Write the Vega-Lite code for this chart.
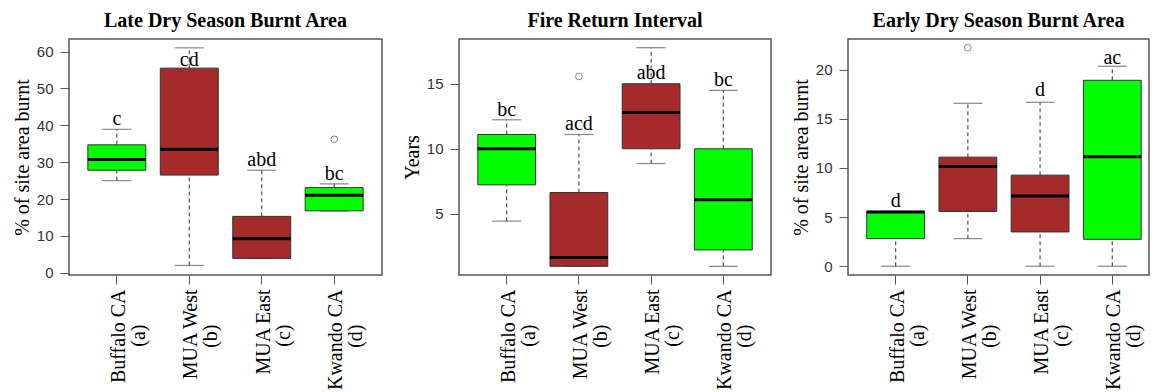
{
  "$schema": "https://vega.github.io/schema/vega-lite/v6.json",
  "padding": {"left": 11, "top": 10, "right": 0, "bottom": 0},
  "datasets": {
    "late": [
      {"site": "Buffalo CA", "grp": "CA", "lower": 25.0, "q1": 27.8, "median": 30.7, "q3": 34.7, "upper": 38.9, "outlier": null, "letter": "c", "ly": 41.7},
      {"site": "MUA West", "grp": "MUA", "lower": 2.0, "q1": 26.5, "median": 33.5, "q3": 55.5, "upper": 61.0, "outlier": null, "letter": "cd", "ly": 57.8},
      {"site": "MUA East", "grp": "MUA", "lower": 3.9, "q1": 3.9, "median": 9.2, "q3": 15.3, "upper": 27.8, "outlier": null, "letter": "abd", "ly": 30.7},
      {"site": "Kwando CA", "grp": "CA", "lower": 16.8, "q1": 16.8, "median": 21.0, "q3": 23.1, "upper": 24.1, "outlier": 36.2, "letter": "bc", "ly": 26.9}
    ],
    "fire": [
      {"site": "Buffalo CA", "grp": "CA", "lower": 4.44, "q1": 7.23, "median": 10.0, "q3": 11.1, "upper": 12.23, "outlier": null, "letter": "bc", "ly": 12.95},
      {"site": "MUA West", "grp": "MUA", "lower": 0.97, "q1": 0.97, "median": 1.64, "q3": 6.64, "upper": 11.1, "outlier": 15.56, "letter": "acd", "ly": 11.9},
      {"site": "MUA East", "grp": "MUA", "lower": 8.87, "q1": 10.0, "median": 12.8, "q3": 15.0, "upper": 17.77, "outlier": null, "letter": "abd", "ly": 15.8},
      {"site": "Kwando CA", "grp": "CA", "lower": 0.97, "q1": 2.23, "median": 6.08, "q3": 10.0, "upper": 14.49, "outlier": null, "letter": "bc", "ly": 15.3}
    ],
    "early": [
      {"site": "Buffalo CA", "grp": "CA", "lower": 0, "q1": 2.81, "median": 5.52, "q3": 5.58, "upper": 5.58, "outlier": null, "letter": "d", "ly": 6.67},
      {"site": "MUA West", "grp": "MUA", "lower": 2.81, "q1": 5.58, "median": 10.15, "q3": 11.1, "upper": 16.58, "outlier": 22.23, "letter": "", "ly": null},
      {"site": "MUA East", "grp": "MUA", "lower": 0, "q1": 3.49, "median": 7.14, "q3": 9.27, "upper": 16.68, "outlier": null, "letter": "d", "ly": 17.9},
      {"site": "Kwando CA", "grp": "CA", "lower": 0, "q1": 2.74, "median": 11.13, "q3": 18.92, "upper": 20.34, "outlier": null, "letter": "ac", "ly": 21.2}
    ]
  },
  "config": {
    "view": {"stroke": "#555", "strokeWidth": 1.5},
    "axis": {"grid": false, "domain": false, "tickColor": "#555", "tickSize": 9, "tickWidth": 1},
    "axisY": {"labelFont": "Liberation Sans", "labelFontSize": 15, "labelColor": "#333", "labelPadding": 7, "labelOverlap": false, "titleFont": "Liberation Serif", "titleFontSize": 20, "titleFontWeight": "normal", "titleColor": "#000", "titlePadding": 4},
    "axisX": {"labelFont": "Liberation Serif", "labelFontSize": 20, "labelColor": "#000", "labelAngle": 270, "labelAlign": "right", "labelBaseline": "middle", "labelPadding": 5, "labelOffset": 2, "labelLineHeight": 20, "labelOverlap": false, "title": null},
    "title": {"font": "Liberation Serif", "fontSize": 20, "fontWeight": "bold", "color": "#000", "anchor": "middle", "frame": "group", "baseline": "alphabetic", "offset": 8},
    "concat": {"spacing": 18}
  },
  "hconcat": [
    {
      "title": "Late Dry Season Burnt Area",
      "width": 313, "height": 236,
      "data": {"name": "late"},
      "encoding": {
        "x": {"field": "site", "type": "nominal", "sort": ["Buffalo CA", "MUA West", "MUA East", "Kwando CA"],
              "scale": {"type": "band", "paddingInner": 0.2, "paddingOuter": 0.26},
              "axis": {"labelExpr": "[datum.label, '(' + ['a','b','c','d'][indexof(['Buffalo CA','MUA West','MUA East','Kwando CA'], datum.label)] + ')' + '\u00a0\u00a0\u00a0\u00a0\u00a0\u00a0\u00a0\u200b']"}}
      },
      "layer": [
        {"mark": {"type": "rule", "color": "#555", "strokeDash": [4, 3], "strokeWidth": 1.2},
         "encoding": {"y": {"field": "lower", "type": "quantitative", "scale": {"domain": [-0.6, 63.4], "nice": false, "zero": false}, "axis": {"values": [0, 10, 20, 30, 40, 50, 60], "title": "% of site area burnt"}}, "y2": {"field": "q1"}}},
        {"mark": {"type": "rule", "color": "#555", "strokeDash": [4, 3], "strokeWidth": 1.2},
         "encoding": {"y": {"field": "q3", "type": "quantitative", "axis": {"values": [0, 10, 20, 30, 40, 50, 60], "title": "% of site area burnt"}}, "y2": {"field": "upper"}}},
        {"mark": {"type": "tick", "color": "#555", "size": 29, "thickness": 1.2},
         "encoding": {"y": {"field": "lower", "type": "quantitative", "axis": {"values": [0, 10, 20, 30, 40, 50, 60], "title": "% of site area burnt"}}}},
        {"mark": {"type": "tick", "color": "#555", "size": 29, "thickness": 1.2},
         "encoding": {"y": {"field": "upper", "type": "quantitative", "axis": {"values": [0, 10, 20, 30, 40, 50, 60], "title": "% of site area burnt"}}}},
        {"mark": {"type": "bar", "stroke": "#333", "strokeWidth": 1},
         "encoding": {"y": {"field": "q1", "type": "quantitative", "axis": {"values": [0, 10, 20, 30, 40, 50, 60], "title": "% of site area burnt"}}, "y2": {"field": "q3"},
                      "color": {"field": "grp", "type": "nominal", "scale": {"domain": ["CA", "MUA"], "range": ["#00FF00", "#A52A2A"]}, "legend": null}}},
        {"mark": {"type": "tick", "color": "#000", "size": 58, "thickness": 3, "opacity": 1},
         "encoding": {"y": {"field": "median", "type": "quantitative", "axis": {"values": [0, 10, 20, 30, 40, 50, 60], "title": "% of site area burnt"}}}},
        {"transform": [{"filter": "datum.outlier != null"}],
         "mark": {"type": "point", "shape": "circle", "filled": false, "color": "#555", "size": 45, "strokeWidth": 1},
         "encoding": {"y": {"field": "outlier", "type": "quantitative", "axis": {"values": [0, 10, 20, 30, 40, 50, 60], "title": "% of site area burnt"}}}},
        {"transform": [{"filter": "datum.ly != null"}],
         "mark": {"type": "text", "font": "Liberation Serif", "fontSize": 20, "color": "#000", "baseline": "middle"},
         "encoding": {"y": {"field": "ly", "type": "quantitative", "axis": {"values": [0, 10, 20, 30, 40, 50, 60], "title": "% of site area burnt"}}, "text": {"field": "letter"}}}
      ]
    },
    {
      "title": "Fire Return Interval",
      "width": 312, "height": 236,
      "data": {"name": "fire"},
      "encoding": {
        "x": {"field": "site", "type": "nominal", "sort": ["Buffalo CA", "MUA West", "MUA East", "Kwando CA"],
              "scale": {"type": "band", "paddingInner": 0.2, "paddingOuter": 0.26},
              "axis": {"labelExpr": "[datum.label, '(' + ['a','b','c','d'][indexof(['Buffalo CA','MUA West','MUA East','Kwando CA'], datum.label)] + ')' + '\u00a0\u00a0\u00a0\u00a0\u00a0\u00a0\u00a0\u200b']"}}
      },
      "layer": [
        {"mark": {"type": "rule", "color": "#555", "strokeDash": [4, 3], "strokeWidth": 1.2},
         "encoding": {"y": {"field": "lower", "type": "quantitative", "scale": {"domain": [0.3, 18.44], "nice": false, "zero": false}, "axis": {"values": [5, 10, 15], "title": "Years"}}, "y2": {"field": "q1"}}},
        {"mark": {"type": "rule", "color": "#555", "strokeDash": [4, 3], "strokeWidth": 1.2},
         "encoding": {"y": {"field": "q3", "type": "quantitative", "axis": {"values": [5, 10, 15], "title": "Years"}}, "y2": {"field": "upper"}}},
        {"mark": {"type": "tick", "color": "#555", "size": 29, "thickness": 1.2},
         "encoding": {"y": {"field": "lower", "type": "quantitative", "axis": {"values": [5, 10, 15], "title": "Years"}}}},
        {"mark": {"type": "tick", "color": "#555", "size": 29, "thickness": 1.2},
         "encoding": {"y": {"field": "upper", "type": "quantitative", "axis": {"values": [5, 10, 15], "title": "Years"}}}},
        {"mark": {"type": "bar", "stroke": "#333", "strokeWidth": 1},
         "encoding": {"y": {"field": "q1", "type": "quantitative", "axis": {"values": [5, 10, 15], "title": "Years"}}, "y2": {"field": "q3"},
                      "color": {"field": "grp", "type": "nominal", "scale": {"domain": ["CA", "MUA"], "range": ["#00FF00", "#A52A2A"]}, "legend": null}}},
        {"mark": {"type": "tick", "color": "#000", "size": 58, "thickness": 3, "opacity": 1},
         "encoding": {"y": {"field": "median", "type": "quantitative", "axis": {"values": [5, 10, 15], "title": "Years"}}}},
        {"transform": [{"filter": "datum.outlier != null"}],
         "mark": {"type": "point", "shape": "circle", "filled": false, "color": "#555", "size": 45, "strokeWidth": 1},
         "encoding": {"y": {"field": "outlier", "type": "quantitative", "axis": {"values": [5, 10, 15], "title": "Years"}}}},
        {"transform": [{"filter": "datum.ly != null"}],
         "mark": {"type": "text", "font": "Liberation Serif", "fontSize": 20, "color": "#000", "baseline": "middle"},
         "encoding": {"y": {"field": "ly", "type": "quantitative", "axis": {"values": [5, 10, 15], "title": "Years"}}, "text": {"field": "letter"}}}
      ]
    },
    {
      "title": "Early Dry Season Burnt Area",
      "width": 301, "height": 236,
      "data": {"name": "early"},
      "encoding": {
        "x": {"field": "site", "type": "nominal", "sort": ["Buffalo CA", "MUA West", "MUA East", "Kwando CA"],
              "scale": {"type": "band", "paddingInner": 0.2, "paddingOuter": 0.184, "align": 0.706},
              "axis": {"labelExpr": "[datum.label, '(' + ['a','b','c','d'][indexof(['Buffalo CA','MUA West','MUA East','Kwando CA'], datum.label)] + ')' + '\u00a0\u00a0\u00a0\u00a0\u00a0\u00a0\u00a0\u200b']"}}
      },
      "layer": [
        {"mark": {"type": "rule", "color": "#555", "strokeDash": [4, 3], "strokeWidth": 1.2},
         "encoding": {"y": {"field": "lower", "type": "quantitative", "scale": {"domain": [-0.89, 23.12], "nice": false, "zero": false}, "axis": {"values": [0, 5, 10, 15, 20], "title": "% of site area burnt"}}, "y2": {"field": "q1"}}},
        {"mark": {"type": "rule", "color": "#555", "strokeDash": [4, 3], "strokeWidth": 1.2},
         "encoding": {"y": {"field": "q3", "type": "quantitative", "axis": {"values": [0, 5, 10, 15, 20], "title": "% of site area burnt"}}, "y2": {"field": "upper"}}},
        {"mark": {"type": "tick", "color": "#555", "size": 29, "thickness": 1.2},
         "encoding": {"y": {"field": "lower", "type": "quantitative", "axis": {"values": [0, 5, 10, 15, 20], "title": "% of site area burnt"}}}},
        {"mark": {"type": "tick", "color": "#555", "size": 29, "thickness": 1.2},
         "encoding": {"y": {"field": "upper", "type": "quantitative", "axis": {"values": [0, 5, 10, 15, 20], "title": "% of site area burnt"}}}},
        {"mark": {"type": "bar", "stroke": "#333", "strokeWidth": 1},
         "encoding": {"y": {"field": "q1", "type": "quantitative", "axis": {"values": [0, 5, 10, 15, 20], "title": "% of site area burnt"}}, "y2": {"field": "q3"},
                      "color": {"field": "grp", "type": "nominal", "scale": {"domain": ["CA", "MUA"], "range": ["#00FF00", "#A52A2A"]}, "legend": null}}},
        {"mark": {"type": "tick", "color": "#000", "size": 58, "thickness": 3, "opacity": 1},
         "encoding": {"y": {"field": "median", "type": "quantitative", "axis": {"values": [0, 5, 10, 15, 20], "title": "% of site area burnt"}}}},
        {"transform": [{"filter": "datum.outlier != null"}],
         "mark": {"type": "point", "shape": "circle", "filled": false, "color": "#555", "size": 45, "strokeWidth": 1},
         "encoding": {"y": {"field": "outlier", "type": "quantitative", "axis": {"values": [0, 5, 10, 15, 20], "title": "% of site area burnt"}}}},
        {"transform": [{"filter": "datum.ly != null"}],
         "mark": {"type": "text", "font": "Liberation Serif", "fontSize": 20, "color": "#000", "baseline": "middle"},
         "encoding": {"y": {"field": "ly", "type": "quantitative", "axis": {"values": [0, 5, 10, 15, 20], "title": "% of site area burnt"}}, "text": {"field": "letter"}}}
      ]
    }
  ]
}
